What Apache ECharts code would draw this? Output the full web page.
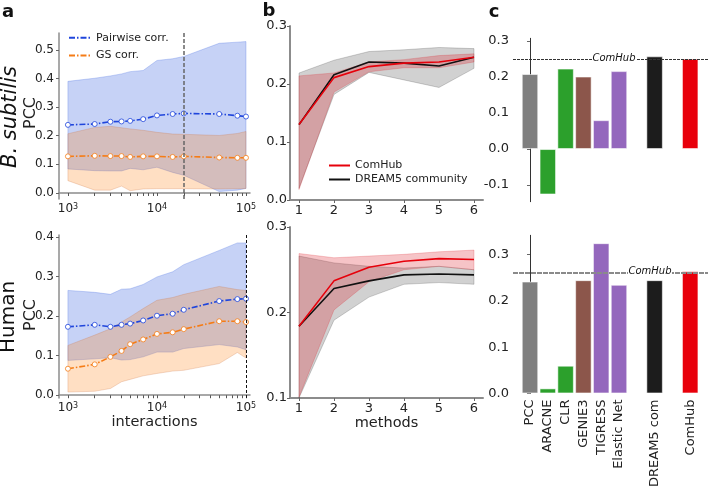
<!DOCTYPE html>
<html><head><meta charset="utf-8">
<script src="https://cdn.jsdelivr.net/npm/echarts@6/dist/echarts.min.js"></script>
<style>html,body{margin:0;padding:0;background:#fff}#c{width:708px;height:490px}</style>
</head><body><div id="c"></div>
<script>
// ---------- DATA ----------
const interactions = [1000, 2000, 3000, 4000, 5000, 7000, 10000, 15000, 20000, 50000, 80000, 100000];
const logTicks = [1000, 10000, 100000];
const logMinorTicks = [2000, 3000, 4000, 5000, 6000, 7000, 8000, 9000, 20000, 30000, 40000, 50000, 60000, 70000, 80000, 90000];
// B. subtilis
const bsPairMean  = [0.238, 0.241, 0.249, 0.250, 0.252, 0.258, 0.271, 0.276, 0.278, 0.276, 0.270, 0.267];
const bsPairUpper = [0.390, 0.401, 0.409, 0.416, 0.424, 0.428, 0.463, 0.469, 0.477, 0.523, 0.527, 0.529];
const bsPairLower = [0.084, 0.078, 0.077, 0.077, 0.086, 0.081, 0.090, 0.072, 0.062, 0.005, 0.010, 0.016];
const bsGsMean    = [0.128, 0.130, 0.129, 0.129, 0.126, 0.128, 0.128, 0.126, 0.128, 0.124, 0.123, 0.123];
const bsGsUpper   = [0.207, 0.229, 0.233, 0.228, 0.224, 0.219, 0.212, 0.206, 0.205, 0.201, 0.208, 0.215];
const bsGsLower   = [0.043, 0.010, 0.010, 0.024, 0.008, 0.014, 0.015, 0.015, 0.015, 0.014, 0.015, 0.016];
const bsCutoff = 20000;
// Human
const huPairMean  = [0.173, 0.178, 0.173, 0.178, 0.181, 0.189, 0.201, 0.206, 0.216, 0.238, 0.243, 0.244];
const huPairUpper = [0.265, 0.260, 0.255, 0.268, 0.269, 0.280, 0.299, 0.312, 0.330, 0.366, 0.385, 0.385];
const huPairLower = [0.088, 0.092, 0.095, 0.089, 0.090, 0.097, 0.109, 0.109, 0.118, 0.128, 0.122, 0.115];
const huGsMean    = [0.067, 0.078, 0.097, 0.112, 0.129, 0.141, 0.155, 0.159, 0.167, 0.187, 0.187, 0.185];
const huGsUpper   = [0.126, 0.152, 0.168, 0.185, 0.198, 0.219, 0.240, 0.247, 0.255, 0.275, 0.267, 0.265];
const huGsLower   = [0.008, 0.010, 0.017, 0.034, 0.040, 0.049, 0.055, 0.061, 0.063, 0.080, 0.108, 0.094];
const huCutoff = 100000;

// panel b
const methods = [1, 2, 3, 4, 5, 6];
const bTopCom    = [0.130, 0.211, 0.230, 0.236, 0.238, 0.246];
const bTopComUp  = [0.214, 0.219, 0.238, 0.242, 0.249, 0.252];
const bTopComLo  = [0.018, 0.186, 0.221, 0.228, 0.228, 0.238];
const bTopDrm    = [0.130, 0.216, 0.238, 0.236, 0.231, 0.246];
const bTopDrmUp  = [0.219, 0.241, 0.256, 0.259, 0.263, 0.261];
const bTopDrmLo  = [0.020, 0.182, 0.220, 0.207, 0.194, 0.227];
const bBotCom    = [0.184, 0.237, 0.253, 0.260, 0.263, 0.262];
const bBotComUp  = [0.269, 0.264, 0.266, 0.268, 0.271, 0.273];
const bBotComLo  = [0.101, 0.203, 0.236, 0.250, 0.254, 0.250];
const bBotDrm    = [0.184, 0.228, 0.237, 0.244, 0.245, 0.244];
const bBotDrmUp  = [0.266, 0.258, 0.254, 0.252, 0.254, 0.250];
const bBotDrmLo  = [0.100, 0.191, 0.218, 0.233, 0.235, 0.233];

// panel c
const cMethods = ['PCC', 'ARACNE', 'CLR', 'GENIE3', 'TIGRESS', 'Elastic Net', 'DREAM5 com', 'ComHub'];
const cSlots   = [0, 1, 2, 3, 4, 5, 7, 9];
const cBs      = [0.208, -0.126, 0.223, 0.201, 0.080, 0.216, 0.257, 0.250];
const cHu      = [0.242, 0.011, 0.060, 0.245, 0.325, 0.235, 0.245, 0.264];
const cColors  = ['#7f7f7f', '#2ca02c', '#2ca02c', '#8c564b', '#9467bd', '#9467bd', '#1c1c1c', '#e8000b'];
const comhubRefBs = 0.251;
const comhubRefHu = 0.264;

// ---------- CHART ----------
const FONT = 'DejaVu Sans';
const TXT = '#222';
const BLUE = '#1f45dc', ORANGE = '#f57c16', RED = '#e6000b', BLACK = '#111';
const chart = echarts.init(document.getElementById('c'));

function band(key, xs, lo, hi, xi, yi, fill, edge) {
  return {type: 'custom', name: key, coordinateSystem: 'cartesian2d', xAxisIndex: xi, yAxisIndex: yi, silent: true, z: 1,
    data: xs.map((x, i) => [x, lo[i], hi[i]]), encode: {x: 0, y: [1, 2]},
    renderItem: function (params, api) {
      if (params.dataIndex !== 0) return null;
      const pts = [];
      for (let i = 0; i < xs.length; i++) pts.push(api.coord([xs[i], hi[i]]));
      for (let i = xs.length - 1; i >= 0; i--) pts.push(api.coord([xs[i], lo[i]]));
      return {type: 'polygon', shape: {points: pts}, style: {fill, stroke: edge, lineWidth: 0.8}};
    }};
}
function meanLine(name, xs, ys, xi, yi, color, extra) {
  return Object.assign({type: 'line', name, xAxisIndex: xi, yAxisIndex: yi, color,
    data: xs.map((x, i) => [x, ys[i]]), symbol: 'circle', symbolSize: 5, showAllSymbol: true, z: 3,
    lineStyle: {color, width: 1.6, type: [6, 2, 1.5, 2]},
    itemStyle: {color: '#fff', borderColor: color, borderWidth: 0.8}}, extra || {});
}
function plainLine(name, xs, ys, xi, yi, color, z) {
  return {type: 'line', name, xAxisIndex: xi, yAxisIndex: yi, color, z,
    data: xs.map((x, i) => [x, ys[i]]), symbol: 'none', lineStyle: {color, width: 1.6}};
}
function bars(name, vals, xi, yi, refVal, refStyle, labelX) {
  return {type: 'bar', name, xAxisIndex: xi, yAxisIndex: yi, barWidth: 16.5,
    data: vals.map((v, i) => ({value: [cSlots[i], v], itemStyle: {color: cColors[i]}})),
    itemStyle: {borderColor: 'rgba(255,255,255,0.55)', borderWidth: 1},
    markLine: {symbol: 'none', silent: true, label: {show: false}, lineStyle: refStyle, data: [{yAxis: refVal}], z: 5},
    markPoint: {symbol: 'rect', symbolSize: [44, 11], itemStyle: {color: '#fff'}, silent: true,
      label: {show: true, position: 'inside', formatter: 'ComHub', color: '#111', fontStyle: 'italic', fontFamily: FONT, fontSize: 10},
      data: [{coord: [labelX, refVal]}], z: 6}
  };
}

const axisGray = {color: '#8c8c8c', width: 1.5};
const yFmt = v => v.toFixed(1);
const logFmt = v => '{b|10}{s|' + Math.round(Math.log10(v)) + '}';
const logRich = {b: {fontSize: 12, fontFamily: FONT, color: TXT}, s: {fontSize: 8, fontFamily: FONT, color: TXT, verticalAlign: 'top'}};

function logAxis(gi, named) {
  return {type: 'log', logBase: 10, gridIndex: gi, min: 794, max: 110900, position: 'bottom',
    axisLine: {lineStyle: axisGray}, splitLine: {show: false},
    axisTick: {customValues: logTicks.concat(logMinorTicks), length: 3, lineStyle: {color: '#555', width: 1}},
    axisLabel: {customValues: logTicks, formatter: logFmt, rich: logRich, margin: 4},
    name: named ? 'interactions' : '', nameLocation: 'middle', nameGap: 13,
    nameTextStyle: {fontFamily: FONT, fontSize: 14.5, color: TXT, verticalAlign: 'top'}};
}
function bxAxis(gi, named) {
  return {type: 'value', gridIndex: gi, min: 0.743, max: 6.257, splitLine: {show: false},
    axisLine: {lineStyle: {color: '#8c8c8c', width: 2}},
    axisTick: {customValues: methods, length: 3, lineStyle: {color: '#666'}},
    axisLabel: {customValues: methods, fontFamily: FONT, fontSize: 13, color: TXT, margin: 4},
    name: named ? 'methods' : '', nameLocation: 'middle', nameGap: 14,
    nameTextStyle: {fontFamily: FONT, fontSize: 14.5, color: TXT, verticalAlign: 'top'}};
}
function yAx(gi, min, max, ticks, lineStyle, fs, margin) {
  return {type: 'value', gridIndex: gi, min, max, splitLine: {show: false},
    axisLine: {show: true, lineStyle},
    axisTick: {show: true, customValues: ticks, length: 3, lineStyle: {color: '#666'}},
    axisLabel: {customValues: ticks, formatter: yFmt, fontFamily: FONT, fontSize: fs, color: TXT, margin}};
}

const BLUE_FILL = 'rgba(65,105,225,0.30)', BLUE_EDGE = 'rgba(65,105,225,0.35)';
const OR_FILL = 'rgba(255,127,14,0.25)', OR_EDGE = 'rgba(200,110,60,0.3)';
const GR_FILL = 'rgba(0,0,0,0.18)', GR_EDGE = 'rgba(0,0,0,0.22)';
const RD_FILL = 'rgba(220,20,30,0.25)', RD_EDGE = 'rgba(220,20,30,0.25)';

const series = [
  // a top
  band('bsPair', interactions, bsPairLower, bsPairUpper, 0, 0, BLUE_FILL, BLUE_EDGE),
  band('bsGs', interactions, bsGsLower, bsGsUpper, 0, 0, OR_FILL, OR_EDGE),
  meanLine('Pairwise corr.', interactions, bsPairMean, 0, 0, BLUE,
    {markLine: {symbol: 'none', silent: true, label: {show: false}, lineStyle: {color: '#666', width: 1.5, type: [4, 2]}, data: [{xAxis: bsCutoff}]}}),
  meanLine('GS corr.', interactions, bsGsMean, 0, 0, ORANGE),
  // a bottom
  band('huPair', interactions, huPairLower, huPairUpper, 1, 1, BLUE_FILL, BLUE_EDGE),
  band('huGs', interactions, huGsLower, huGsUpper, 1, 1, OR_FILL, OR_EDGE),
  meanLine('Pairwise corr.', interactions, huPairMean, 1, 1, BLUE,
    {markLine: {symbol: 'none', silent: true, label: {show: false}, lineStyle: {color: '#111', width: 1, type: [3, 2]}, data: [{xAxis: huCutoff}]}}),
  meanLine('GS corr.', interactions, huGsMean, 1, 1, ORANGE),
  // b top
  band('bTopDrm', methods, bTopDrmLo, bTopDrmUp, 2, 2, GR_FILL, GR_EDGE),
  band('bTopCom', methods, bTopComLo, bTopComUp, 2, 2, RD_FILL, RD_EDGE),
  plainLine('DREAM5 community', methods, bTopDrm, 2, 2, BLACK, 3),
  plainLine('ComHub', methods, bTopCom, 2, 2, RED, 4),
  // b bottom
  band('bBotDrm', methods, bBotDrmLo, bBotDrmUp, 3, 3, GR_FILL, GR_EDGE),
  band('bBotCom', methods, bBotComLo, bBotComUp, 3, 3, RD_FILL, RD_EDGE),
  plainLine('DREAM5 community', methods, bBotDrm, 3, 3, BLACK, 3),
  plainLine('ComHub', methods, bBotCom, 3, 3, RED, 4),
  // c
  bars('c_bs', cBs, 4, 4, comhubRefBs, {color: '#333', width: 1, type: [3, 1]}, 4.72),
  bars('c_hu', cHu, 5, 5, comhubRefHu, {color: '#8a8a8a', width: 2, type: [5, 1]}, 6.74)
];

const option = {
  animation: false,
  backgroundColor: '#fff',
  textStyle: {fontFamily: FONT},
  grid: [
    {left: 59, top: 33, width: 191, height: 166},
    {left: 59, top: 235, width: 191, height: 163},
    {left: 290, top: 26, width: 193, height: 174},
    {left: 290, top: 227, width: 193, height: 171},
    {left: 513, top: 38.3, width: 195, height: 163.4},
    {left: 513, top: 235.3, width: 195, height: 162}
  ],
  xAxis: [
    logAxis(0, false), logAxis(1, true), bxAxis(2, false), bxAxis(3, true),
    {type: 'value', gridIndex: 4, min: -0.955, max: 10, show: false},
    {type: 'value', gridIndex: 5, min: -0.955, max: 10, splitLine: {show: false}, axisLine: {show: false}, axisTick: {show: false},
     axisLabel: {customValues: cSlots, rotate: 90, margin: 6, fontFamily: FONT, fontSize: 13, color: TXT,
       formatter: v => cMethods[cSlots.indexOf(Math.round(v))]}}
  ],
  yAxis: [
    yAx(0, -0.021, 0.559, [0, 0.1, 0.2, 0.3, 0.4, 0.5], axisGray, 12, 5),
    yAx(1, -0.007, 0.405, [0, 0.1, 0.2, 0.3, 0.4], axisGray, 12, 5),
    yAx(2, 0, 0.3, [0, 0.1, 0.2, 0.3], {color: '#8c8c8c', width: 2}, 13, 3),
    yAx(3, 0.1, 0.3, [0.1, 0.2, 0.3], {color: '#8c8c8c', width: 2}, 13, 3),
    yAx(4, -0.146, 0.307, [-0.1, 0, 0.1, 0.2, 0.3], {color: '#333', width: 1}, 13, 4),
    yAx(5, 0, 0.342, [0, 0.1, 0.2, 0.3], {color: '#333', width: 1}, 13, 4)
  ],
  legend: [
    {data: ['Pairwise corr.', 'GS corr.'], left: 68, top: 32, padding: 0, orient: 'vertical', itemWidth: 22, itemHeight: 12, itemGap: 6,
     itemStyle: {opacity: 0}, textStyle: {fontFamily: FONT, fontSize: 11, color: TXT}, selectedMode: false},
    {data: ['ComHub', 'DREAM5 community'], left: 328, top: 160, padding: 0, orient: 'vertical', itemWidth: 21, itemHeight: 12, itemGap: 3,
     itemStyle: {opacity: 0}, textStyle: {fontFamily: FONT, fontSize: 11, color: TXT}, selectedMode: false}
  ],
  graphic: [
    {type: 'text', x: 8, y: 12, style: {text: 'a', font: 'bold 18px "DejaVu Sans"', fill: '#111', textAlign: 'center', textVerticalAlign: 'middle'}},
    {type: 'text', x: 269, y: 11, style: {text: 'b', font: 'bold 18px "DejaVu Sans"', fill: '#111', textAlign: 'center', textVerticalAlign: 'middle'}},
    {type: 'text', x: 494, y: 12, style: {text: 'c', font: 'bold 18px "DejaVu Sans"', fill: '#111', textAlign: 'center', textVerticalAlign: 'middle'}},
    {type: 'text', x: 11, y: 117, rotation: Math.PI / 2, style: {text: 'B. subtilis', font: 'italic 21px "DejaVu Sans"', fill: '#111', textAlign: 'center', textVerticalAlign: 'middle'}},
    {type: 'text', x: 31, y: 113, rotation: Math.PI / 2, style: {text: 'PCC', font: '16px "DejaVu Sans"', fill: TXT, textAlign: 'center', textVerticalAlign: 'middle'}},
    {type: 'text', x: 9, y: 317, rotation: Math.PI / 2, style: {text: 'Human', font: '20px "DejaVu Sans"', fill: '#111', textAlign: 'center', textVerticalAlign: 'middle'}},
    {type: 'text', x: 31, y: 315, rotation: Math.PI / 2, style: {text: 'PCC', font: '16px "DejaVu Sans"', fill: TXT, textAlign: 'center', textVerticalAlign: 'middle'}}
  ],
  series
};
chart.setOption(option);
</script></body></html>
